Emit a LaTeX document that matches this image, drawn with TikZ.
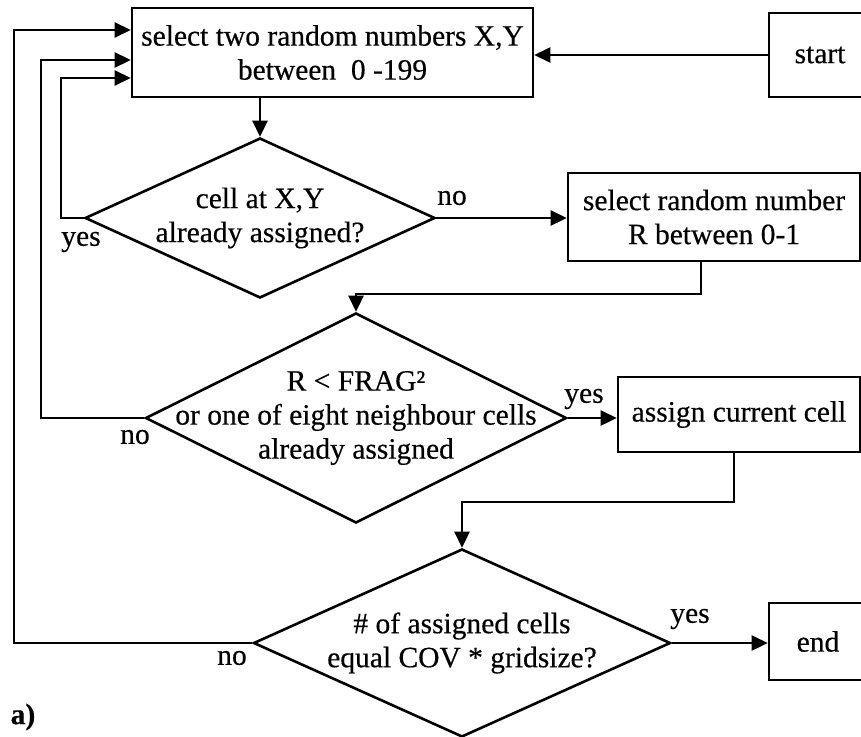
\documentclass[tikz,border=0pt]{standalone}
\usepackage{fontspec}
\setmainfont{Liberation Serif}[FakeBold=0.4]
\usetikzlibrary{arrows.meta,shapes.geometric}
\begin{document}
\begin{tikzpicture}[x=1pt,y=-1pt,
  every node/.style={font=\fontsize{29.5}{34}\selectfont},
  box/.style={draw, line width=2.6pt, rectangle, inner sep=0pt, align=center},
  dia/.style={draw, line width=2.6pt, diamond, inner sep=0pt},
  txt/.style={align=center, inner sep=0pt},
  lbl/.style={inner sep=0pt},
  arr/.style={line width=2.6pt, -{Triangle[length=16pt,width=15pt]}}]
\clip (0,0) rectangle (861,736);
\useasboundingbox (0,0) rectangle (861,736);
% boxes
\node[box, minimum width=401pt, minimum height=89pt] (b1) at (332.5,52.5) {select two random numbers X,Y\\between\ \ 0 -199};
\node[box, minimum width=102pt, minimum height=84pt] (nstart) at (820,55) {start};
\node[dia, minimum width=350pt, minimum height=160pt] (d1) at (260,218) {};
\node[txt] (t1) at (d1) {cell at X,Y\\already assigned?};
\node[box, minimum width=292pt, minimum height=88pt] (b2) at (714,217) {select random number\\R between 0-1};
\node[dia, minimum width=421pt, minimum height=210pt] (d2) at (356,418) {};
\node[txt] (t2) at (d2) {R < FRAG²\\or one of eight neighbour cells\\already assigned};
\node[box, minimum width=242pt, minimum height=75pt] (b3) at (739,414.5) {assign current cell};
\node[dia, minimum width=417pt, minimum height=188pt] (d3) at (462,643) {};
\node[txt] (t3) at (d3) {\# of assigned cells\\equal COV * gridsize?};
\node[box, minimum width=98pt, minimum height=77pt] (nend) at (818,641.5) {end};
% connectors
\draw[arr] (nstart.west) -- (nstart.west -| b1.east);
\draw[arr] (d1.north |- b1.south) -- (d1.north);
\draw[arr] (d1.east) -- (d1.east -| b2.west);
\coordinate (c2) at (701,294);
\draw[arr] (b2.south -| c2) -- (c2) -| (d2.north);
\draw[arr] (d2.east) -- (d2.east -| b3.west);
\coordinate (c3) at (734,502);
\draw[arr] (b3.south -| c3) -- (c3) -| (d3.north);
\draw[arr] (d3.east) -- (d3.east -| nend.west);
\coordinate (l1) at (61,78);
\draw[arr] (d1.west) -| (l1) -- (l1 -| b1.west);
\coordinate (l2) at (41,60);
\draw[arr] (d2.west) -| (l2) -- (l2 -| b1.west);
\coordinate (l3) at (14,30);
\draw[arr] (d3.west) -| (l3) -- (l3 -| b1.west);
% labels
\node[lbl] (y1) at (81,242) {yes};
\node[lbl] (n1) at (452,198) {no};
\node[lbl] (n2) at (135,437) {no};
\node[lbl] (y2) at (584,399) {yes};
\node[lbl] (n3) at (232,658) {no};
\node[lbl] (y3) at (690,619) {yes};
\node[lbl, font=\fontsize{29.5}{34}\selectfont\bfseries] (lab) at (23,717) {a)};
\end{tikzpicture}
\end{document}
